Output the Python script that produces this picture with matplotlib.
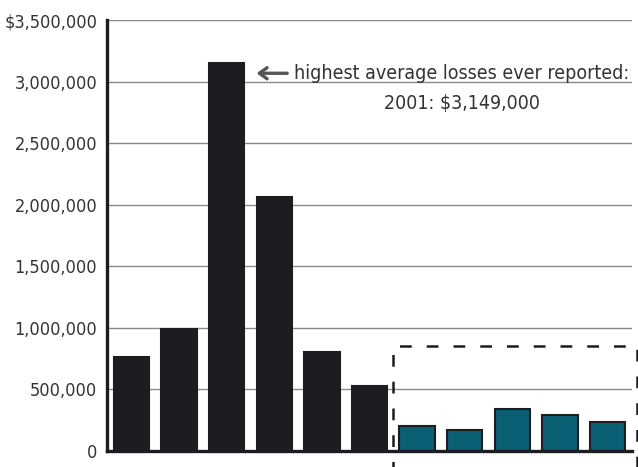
import matplotlib
matplotlib.use("Agg")
import matplotlib.pyplot as plt
import matplotlib.patches as patches
from matplotlib.ticker import FuncFormatter

plt.rcParams['font.family'] = ['DejaVu Sans']
plt.rcParams['font.stretch'] = 'condensed'

# average losses per year (early years in black, recent years in teal)
years = ["1997", "1998", "1999", "2000", "2001", "2002", "2003",
         "2004", "2005", "2006", "2007"]
losses = [763000, 990000, 3149000, 2062000, 804000, 528000,
          203000, 170000, 341000, 292000, 235000]
recent = [False] * 6 + [True] * 5
y_ticks = [0, 500000, 1000000, 1500000, 2000000, 2500000, 3000000, 3500000]

dark = "#1d1c20"
teal = "#0a5f75"
grey_text = "#333333"

fig = plt.figure(figsize=(6.38, 4.67), dpi=100)
ax = fig.add_axes([0.1677, 0.0343, 0.8229, 0.9227])

x = list(range(len(losses)))
colors = [teal if r else dark for r in recent]
ax.bar(x, losses, width=0.74, color=colors, edgecolor=dark,
       linewidth=1.5, zorder=3)

ax.set_xlim(-0.515, 10.515)
ax.set_ylim(0, 3500000)
ax.set_yticks(y_ticks)


def fmt(v, pos):
    if v == 0:
        return "0"
    s = f"{int(v):,}"
    return "$" + s if v == 3500000 else s


ax.yaxis.set_major_formatter(FuncFormatter(fmt))
ax.set_xticks([])
ax.tick_params(axis="y", length=0, pad=7, labelsize=13, labelcolor=grey_text)

ax.grid(axis="y", color="#8a8a8a", linewidth=1.0, zorder=0)
for side in ["top", "right"]:
    ax.spines[side].set_visible(False)
for side in ["left", "bottom"]:
    ax.spines[side].set_linewidth(2.4)
    ax.spines[side].set_color(dark)
    ax.spines[side].set_zorder(4)

# annotation for the peak year
peak = losses.index(max(losses))
ax.annotate("", xy=(peak + 0.57, 3068000), xytext=(peak + 1.33, 3068000),
            arrowprops=dict(arrowstyle="->,head_length=0.55,head_width=0.4",
                            color="#555555", lw=2.4))
ax.text(6.94, 3068000, "highest average losses ever reported:",
        ha="center", va="center", fontsize=14, color=grey_text)
ax.text(6.94, 2825000, "2001: $3,149,000",
        ha="center", va="center", fontsize=14, color=grey_text)

# dashed box around the recent years
box = patches.Rectangle((5.5, -300000), 5.12, 1150000, fill=False,
                        edgecolor=dark, linewidth=1.8,
                        linestyle=(0, (4.7, 6)), clip_on=False, zorder=5)
ax.add_patch(box)

fig.savefig("out.png", dpi=100)
